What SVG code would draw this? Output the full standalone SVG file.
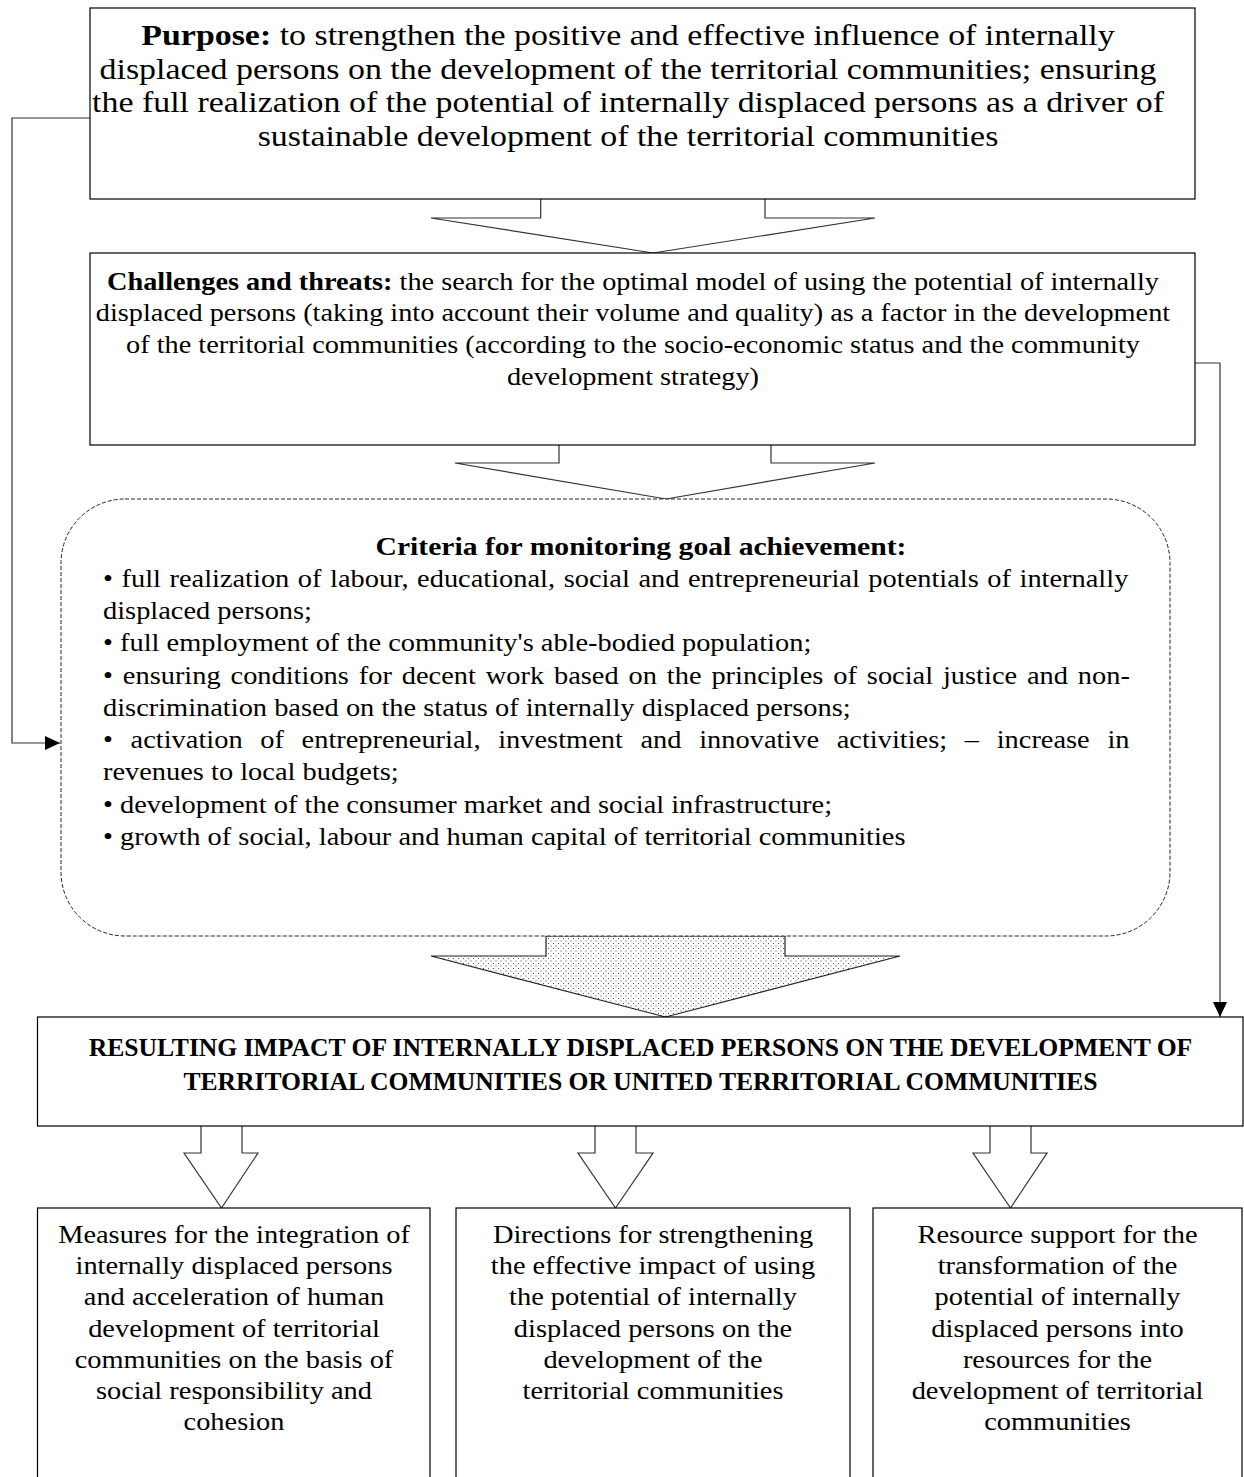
<svg xmlns="http://www.w3.org/2000/svg" width="1244" height="1477" viewBox="0 0 1244 1477">
<defs>
<style>
.box{fill:#fff;stroke:#000;stroke-width:1.2}
.dash{fill:#fff;stroke:#222;stroke-width:1;stroke-dasharray:4 2}
.arrow{fill:#fff;stroke:#333;stroke-width:1.2;stroke-linejoin:miter}
.dotted{fill:url(#dots);stroke:#222;stroke-width:1.2}
.conn{fill:none;stroke:#333;stroke-width:1.2}
text{font-family:"Liberation Serif","Times New Roman",serif;fill:#000}
.t1{font-size:30px}
.t2{font-size:24.6px}
.t3{font-size:24.7px}
.t4{font-size:25px;font-weight:bold}
.b{font-weight:bold}
.m{text-anchor:middle}
</style>
<pattern id="dots" width="5" height="5" patternUnits="userSpaceOnUse">
<rect width="5" height="5" fill="#fff"/>
<rect x="0.5" y="0.5" width="1" height="1" fill="#555"/>
<rect x="3" y="3" width="1" height="1" fill="#555"/>
</pattern>
<marker id="ah" markerUnits="userSpaceOnUse" markerWidth="16" markerHeight="14" refX="15" refY="7" orient="auto">
<path d="M0,0 L15,7 L0,14 z" fill="#000"/>
</marker>
</defs>

<g id="connectors">
<path class="arrow" d="M540.7,199 L540.7,218 L431,218 L653,253 L875,218 L765,218 L765,199"/>
<path class="arrow" d="M559,445 L559,463 L455,463 L666,499 L875,463 L771,463 L771,445"/>
<path class="dotted" d="M546,936 L546,956 L431,956 L665.5,1017 L900,956 L785,956 L785,936 Z"/>
<path class="arrow" d="M201,1126 L201,1153 L184,1153 L221.5,1208 L258,1153 L242,1153 L242,1126"/>
<path class="arrow" d="M595,1126 L595,1153 L578,1153 L615.5,1208 L653,1153 L636,1153 L636,1126"/>
<path class="arrow" d="M990,1126 L990,1153 L973,1153 L1010.5,1208 L1047,1153 L1031,1153 L1031,1126"/>
<path class="conn" d="M90,118 L12,118 L12,743 L60,743" marker-end="url(#ah)"/>
<path class="conn" d="M1195,363 L1220,363 L1220,1017" marker-end="url(#ah)"/>
</g>

<g id="n-purpose">
<rect class="box" x="90" y="8" width="1105" height="191"/>
<text class="t1 m" transform="translate(628,45) scale(1.13,1)"><tspan class="b">Purpose:</tspan> to strengthen the positive and effective influence of internally</text>
<text class="t1 m" transform="translate(628,79) scale(1.13,1)">displaced persons on the development of the territorial communities; ensuring</text>
<text class="t1 m" transform="translate(628,112) scale(1.13,1)">the full realization of the potential of internally displaced persons as a driver of</text>
<text class="t1 m" transform="translate(628,146) scale(1.13,1)">sustainable development of the territorial communities</text>
</g>

<g id="n-challenges">
<rect class="box" x="90" y="253" width="1105" height="192"/>
<text class="t2 m" transform="translate(633,290) scale(1.15,1)"><tspan class="b">Challenges and threats:</tspan> the search for the optimal model of using the potential of internally</text>
<text class="t2 m" transform="translate(633,321) scale(1.15,1)">displaced persons (taking into account their volume and quality) as a factor in the development</text>
<text class="t2 m" transform="translate(633,353) scale(1.15,1)">of the territorial communities (according to the socio-economic status and the community</text>
<text class="t2 m" transform="translate(633,385) scale(1.15,1)">development strategy)</text>
</g>

<g id="n-criteria">
<rect class="dash" x="61" y="499" width="1109" height="437" rx="64" ry="64"/>
<text class="t3 m b" transform="translate(641,555) scale(1.2,1)">Criteria for monitoring goal achievement:</text>
<text class="t3" transform="translate(103,587) scale(1.15,1)" word-spacing="1.26">• full realization of labour, educational, social and entrepreneurial potentials of internally</text>
<text class="t3" transform="translate(103,619) scale(1.15,1)">displaced persons;</text>
<text class="t3" transform="translate(103,651) scale(1.15,1)">• full employment of the community's able-bodied population;</text>
<text class="t3" transform="translate(103,683.5) scale(1.15,1)" word-spacing="2.43">• ensuring conditions for decent work based on the principles of social justice and non-</text>
<text class="t3" transform="translate(103,715.5) scale(1.15,1)">discrimination based on the status of internally displaced persons;</text>
<text class="t3" transform="translate(103,748) scale(1.15,1)" word-spacing="9.2">• activation of entrepreneurial, investment and innovative activities; – increase in</text>
<text class="t3" transform="translate(103,780) scale(1.15,1)">revenues to local budgets;</text>
<text class="t3" transform="translate(103,812.5) scale(1.15,1)">• development of the consumer market and social infrastructure;</text>
<text class="t3" transform="translate(103,845) scale(1.15,1)">• growth of social, labour and human capital of territorial communities</text>
</g>

<g id="n-result">
<rect class="box" x="37.5" y="1017" width="1205.5" height="109"/>
<text class="t4 m" transform="translate(640.5,1056) scale(1.025,1)">RESULTING IMPACT OF INTERNALLY DISPLACED PERSONS ON THE DEVELOPMENT OF</text>
<text class="t4 m" transform="translate(640.5,1090) scale(1.025,1)">TERRITORIAL COMMUNITIES OR UNITED TERRITORIAL COMMUNITIES</text>
</g>

<g id="n-measures">
<rect class="box" x="37.5" y="1208" width="392.5" height="290"/>
<text class="t3 m" transform="translate(234,1243) scale(1.15,1)">Measures for the integration of</text>
<text class="t3 m" transform="translate(234,1274) scale(1.15,1)">internally displaced persons</text>
<text class="t3 m" transform="translate(234,1305) scale(1.15,1)">and acceleration of human</text>
<text class="t3 m" transform="translate(234,1337) scale(1.15,1)">development of territorial</text>
<text class="t3 m" transform="translate(234,1368) scale(1.15,1)">communities on the basis of</text>
<text class="t3 m" transform="translate(234,1399) scale(1.15,1)">social responsibility and</text>
<text class="t3 m" transform="translate(234,1430) scale(1.15,1)">cohesion</text>
</g>

<g id="n-directions">
<rect class="box" x="456" y="1208" width="394" height="290"/>
<text class="t3 m" transform="translate(653,1243) scale(1.15,1)">Directions for strengthening</text>
<text class="t3 m" transform="translate(653,1274) scale(1.15,1)">the effective impact of using</text>
<text class="t3 m" transform="translate(653,1305) scale(1.15,1)">the potential of internally</text>
<text class="t3 m" transform="translate(653,1337) scale(1.15,1)">displaced persons on the</text>
<text class="t3 m" transform="translate(653,1368) scale(1.15,1)">development of the</text>
<text class="t3 m" transform="translate(653,1399) scale(1.15,1)">territorial communities</text>
</g>

<g id="n-resources">
<rect class="box" x="873" y="1208" width="369" height="290"/>
<text class="t3 m" transform="translate(1057.5,1243) scale(1.15,1)">Resource support for the</text>
<text class="t3 m" transform="translate(1057.5,1274) scale(1.15,1)">transformation of the</text>
<text class="t3 m" transform="translate(1057.5,1305) scale(1.15,1)">potential of internally</text>
<text class="t3 m" transform="translate(1057.5,1337) scale(1.15,1)">displaced persons into</text>
<text class="t3 m" transform="translate(1057.5,1368) scale(1.15,1)">resources for the</text>
<text class="t3 m" transform="translate(1057.5,1399) scale(1.15,1)">development of territorial</text>
<text class="t3 m" transform="translate(1057.5,1430) scale(1.15,1)">communities</text>
</g>
</svg>
